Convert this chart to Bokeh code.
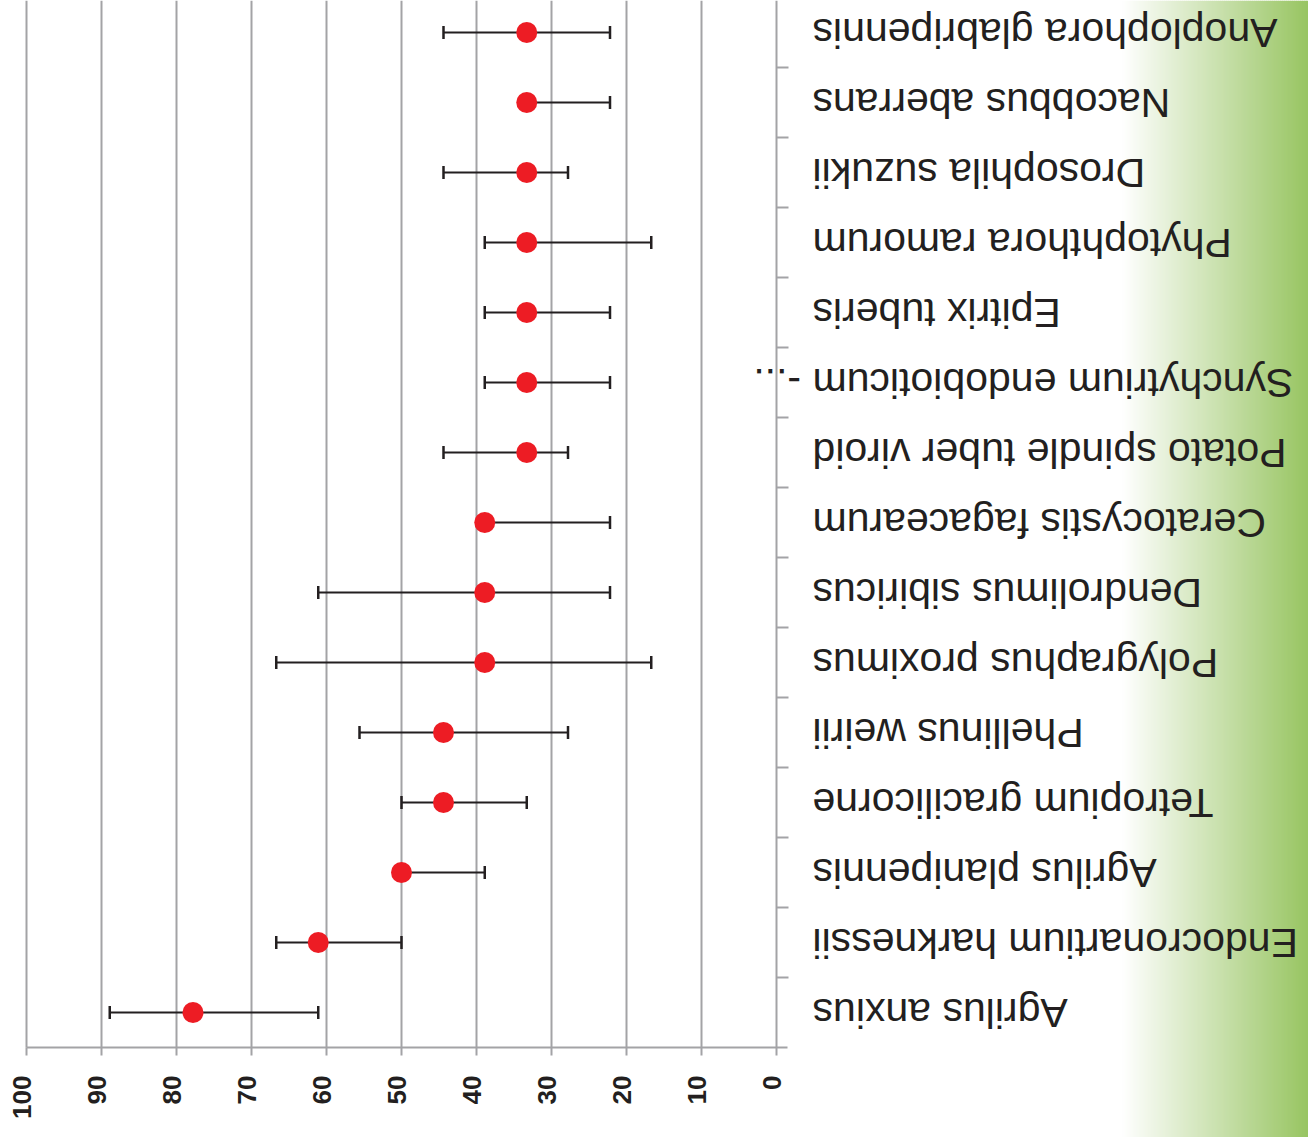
import numpy as np
from bokeh.plotting import figure
from bokeh.models import Range1d, ColumnDataSource
from bokeh.embed import file_html
from bokeh.resources import INLINE
from bokeh.core.properties import value

# ---------------- data ----------------
species = [
    "Agrilus anxius",
    "Endocronartium harknessii",
    "Agrilus planipennis",
    "Tetropium gracilicorne",
    "Phellinus weirii",
    "Polygraphus proximus",
    "Dendrolimus sibiricus",
    "Ceratocystis fagacearum",
    "Potato spindle tuber viroid",
    "Synchytrium endobioticum",
    "Epitrix tuberis",
    "Phytophthora ramorum",
    "Drosophila suzukii",
    "Nacobbus aberrans",
    "Anoplophora glabripennis",
]
label_suffix = ["", "", "", "", "", "", "", "", "", "\u00a0-...", "", "", "", "", ""]
median = [77.8, 61.1, 50.0, 44.4, 44.4, 38.9, 38.9, 38.9, 33.3, 33.3, 33.3, 33.3, 33.3, 33.3, 33.3]
upper = [88.9, 66.7, 50.0, 50.0, 55.6, 66.7, 61.1, 38.9, 44.4, 38.9, 38.9, 38.9, 44.4, 33.3, 44.4]
lower = [61.1, 50.0, 38.9, 33.3, 27.8, 16.7, 22.2, 22.2, 27.8, 22.2, 22.2, 16.7, 27.8, 22.2, 22.2]
x_ticks = [0, 10, 20, 30, 40, 50, 60, 70, 80, 90, 100]
x_tick_labels = [str(t) for t in x_ticks]

# ---------------- layout constants ----------------
W, H = 1308, 1137
PX_X = 7.5          # pixels per value unit
PX_Y = 70.0         # pixels per category band
ZERO_X = 776        # frame pixel of value 0
BASE_Y = 1047       # frame pixel of category axis baseline

x_start = ZERO_X / PX_X
x_end = (ZERO_X - W) / PX_X
y_end = BASE_Y / PX_Y
y_start = (BASE_Y - H) / PX_Y

def dx(px):
    return px / PX_X

def dy(px):
    return px / PX_Y

GRID = "#a3a3a6"
INK = "#231f20"
FONT = value("Liberation Sans")

p = figure(width=W, height=H, x_range=Range1d(x_start, x_end), y_range=Range1d(y_start, y_end),
           x_axis_type=None, y_axis_type=None, toolbar_location=None, output_backend="svg",
           min_border=0, outline_line_color=None, background_fill_color="white",
           border_fill_color="white")

# ---------------- green gradient on the right ----------------
g0, g1 = 1122, 1308
green = np.array([152, 197, 98])
edges = np.arange(g0, W + 2, 2)
lefts, rights, cols = [], [], []
for e in edges[:-1]:
    t = np.clip((e + 1 - g0) / (g1 - g0), 0, 1)
    c = (255 * (1 - t) + green * t).astype(int)
    cols.append("#%02x%02x%02x" % tuple(c))
    lefts.append((ZERO_X - e) / PX_X)
    rights.append((ZERO_X - e - 2.6) / PX_X)
p.quad(left=lefts, right=rights, bottom=y_start, top=y_end, fill_color=cols, line_color=None)

# ---------------- grid lines ----------------
grid_x = [t for t in x_ticks if t > 0]
p.segment(x0=grid_x, y0=[0] * len(grid_x), x1=grid_x, y1=[y_end] * len(grid_x),
          line_color=GRID, line_width=2)

# ---------------- axes drawn with segments ----------------
n = len(species)
# value axis (bottom)
p.segment(x0=[max(x_ticks)], y0=[0], x1=[-dx(11)], y1=[0], line_color=GRID, line_width=2)
p.segment(x0=x_ticks, y0=[0] * len(x_ticks), x1=x_ticks, y1=[-dy(8)] * len(x_ticks),
          line_color=GRID, line_width=2)
# category axis (at value 0)
p.segment(x0=[0], y0=[0], x1=[0], y1=[y_end], line_color=GRID, line_width=2)
band_edges = list(range(1, n))
p.segment(x0=[0] * len(band_edges), y0=band_edges, x1=[-dx(12)] * len(band_edges), y1=band_edges,
          line_color=GRID, line_width=2)

# tick labels (rotated)
p.text(x=[t + dx(4.5) for t in x_ticks], y=[-dy(28)] * len(x_ticks), text=x_tick_labels,
       angle=np.pi / 2, text_align="right", text_baseline="middle",
       text_font=FONT, text_font_style="bold", text_font_size="26px", text_color=INK)

# ---------------- error bars and points ----------------
ys = [i + 0.5 for i in range(n)]
cap = dy(6.5)
src = ColumnDataSource(dict(y=ys, med=median, lo=lower, hi=upper, name=species, suf=label_suffix,
                            cap_lo=[y - cap for y in ys], cap_hi=[y + cap for y in ys]))
p.segment(x0="lo", y0="y", x1="hi", y1="y", source=src, line_color=INK, line_width=2)
p.segment(x0="lo", y0="cap_lo", x1="lo", y1="cap_hi", source=src, line_color=INK, line_width=2.5)
p.segment(x0="hi", y0="cap_lo", x1="hi", y1="cap_hi", source=src, line_color=INK, line_width=2.5)
p.scatter(x="med", y="y", source=src, size=21, fill_color="#ed1c24", line_color=None)

# ---------------- category labels (upside-down) ----------------
lab_x = -dx(36)
p.text(x=lab_x, y="y", text="name", source=src, angle=np.pi, text_align="right",
       text_baseline="middle", text_font=FONT, text_font_size="41px", text_color=INK)
p.text(x=lab_x, y="y", text="suf", source=src, angle=np.pi, text_align="left",
       text_baseline="middle", text_font=FONT, text_font_size="41px", text_color=INK)

open("out.html", "w").write(file_html(p, INLINE))
